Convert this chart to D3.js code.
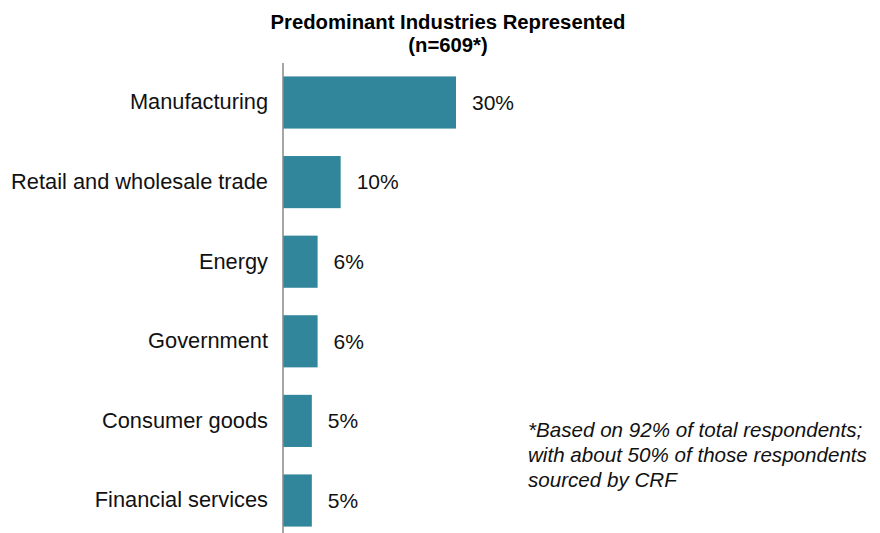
<!DOCTYPE html>
<html>
<head>
<meta charset="utf-8">
<script src="https://cdn.jsdelivr.net/npm/d3@7"></script>
<style>
  html, body { margin: 0; padding: 0; background: #fff; }
  svg { display: block; font-family: "Liberation Sans", Arial, sans-serif; }
</style>
</head>
<body>
<svg id="chart" width="880" height="533"></svg>
<script>
// Share of respondents by industry (percent)
const industries = ["Manufacturing", "Retail and wholesale trade", "Energy", "Government", "Consumer goods", "Financial services"];
const shares = [30, 10, 6, 6, 5, 5];
const titleLines = ["Predominant Industries Represented", "(n=609*)"];
const noteLines = ["*Based on 92% of total respondents;", "with about 50% of those respondents", "sourced by CRF"];

const data = industries.map((name, i) => ({ name, value: shares[i] }));

const svg = d3.select("#chart");
const W = 880, H = 533;
const axisX = 283;

const x = d3.scaleLinear().domain([0, 30]).range([axisX, 456]);
const y = d3.scaleBand().domain(industries).range([62.7, 540.3]).paddingInner(0.345).paddingOuter(0.1725);

// title
svg.append("g")
  .selectAll("text")
  .data(titleLines)
  .join("text")
  .attr("x", 448)
  .attr("y", (d, i) => 29 + i * 23)
  .attr("text-anchor", "middle")
  .attr("font-weight", "bold")
  .attr("font-size", 20.3)
  .attr("fill", "#000")
  .text(d => d);

// bars
svg.append("g")
  .selectAll("rect")
  .data(data)
  .join("rect")
  .attr("x", x(0))
  .attr("y", d => y(d.name))
  .attr("width", d => x(d.value) - x(0))
  .attr("height", y.bandwidth())
  .attr("fill", "#31869b");

// category labels via axisLeft (domain path removed, axis line drawn separately)
const yAxis = d3.axisLeft(y).tickSize(0).tickPadding(15);
const gy = svg.append("g").attr("transform", `translate(${axisX},0)`).call(yAxis);
gy.select(".domain").remove();
gy.selectAll("text")
  .attr("font-family", "'Liberation Sans', Arial, sans-serif")
  .attr("font-size", 21.8)
  .attr("fill", "#111");

svg.append("line")
  .attr("x1", axisX).attr("x2", axisX)
  .attr("y1", 63).attr("y2", H)
  .attr("stroke", "#888")
  .attr("stroke-width", 1.5);

// value labels
svg.append("g")
  .selectAll("text")
  .data(data)
  .join("text")
  .attr("x", d => x(d.value) + 16)
  .attr("y", d => y(d.name) + y.bandwidth() / 2)
  .attr("dy", "0.35em")
  .attr("font-size", 21)
  .attr("fill", "#111")
  .text(d => d.value + "%");

// footnote
svg.append("g")
  .selectAll("text")
  .data(noteLines)
  .join("text")
  .attr("x", 528)
  .attr("y", (d, i) => 437 + i * 25)
  .attr("font-style", "italic")
  .attr("font-size", 20.6)
  .attr("fill", "#111")
  .text(d => d);
</script>
</body>
</html>
